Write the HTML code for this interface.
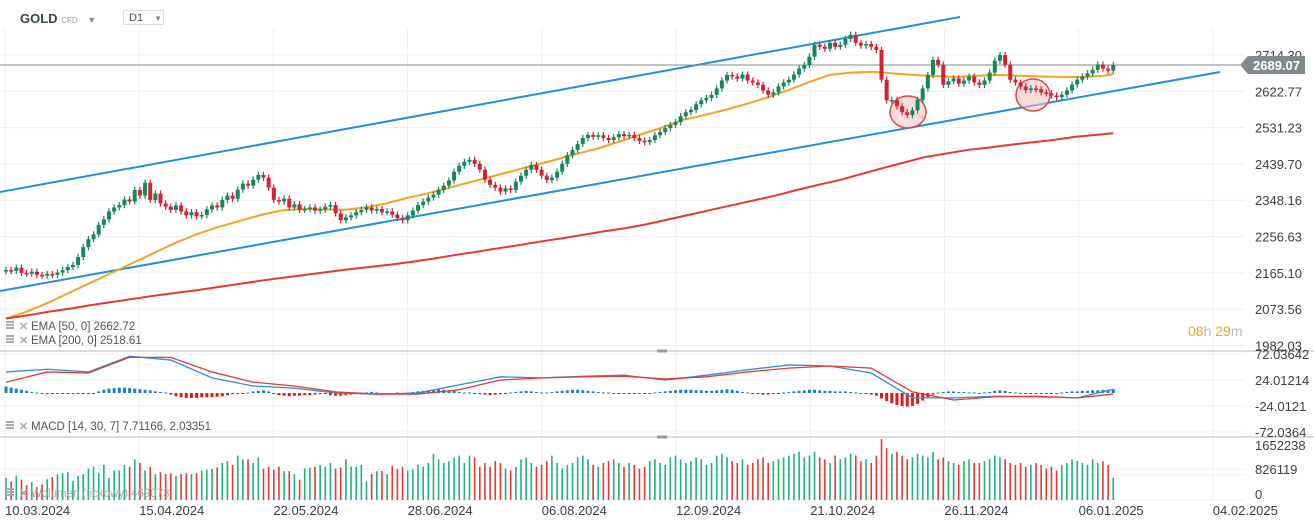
<!DOCTYPE html>
<html><head><meta charset="utf-8"><style>
body{margin:0;background:#fff;font-family:"Liberation Sans",sans-serif;}
#wrap{position:relative;width:1314px;height:526px;overflow:hidden;}
svg text{font-family:"Liberation Sans",sans-serif;}
</style></head><body>
<div id="wrap">
<svg id="chart" width="1314" height="526" xmlns="http://www.w3.org/2000/svg">
<g id="grid"></g>
<g id="lines"></g>
<g id="candles"></g>
<g id="macd"></g>
<g id="vol"></g>
<g id="axis"></g>
</svg>
<div style="position:absolute;left:20px;top:11px;font-size:13px;font-weight:bold;color:#37474f">GOLD <span style="font-size:8px;color:#999;font-weight:normal">CFD</span> <span style="font-size:9px;color:#888;margin-left:6px">▼</span></div>
<div style="position:absolute;left:123px;top:10px;width:41px;height:15px;border:1px solid #ddd;font-size:11px;color:#555;line-height:15px;box-sizing:border-box;padding-left:5px">D1 <span style="font-size:8px;color:#888;margin-left:8px">▼</span></div>
</div>
<script>
const closes=[2172,2170,2178,2165,2163,2168,2160,2158,2162,2160,
2166,2172,2180,2185,2205,2230,2250,2262,2286,2300,
2320,2330,2336,2350,2345,2374,2360,2392,2349,2365,
2340,2332,2324,2335,2320,2310,2318,2308,2311,2325,
2335,2330,2349,2360,2352,2375,2390,2385,2400,2412,
2405,2380,2349,2345,2352,2330,2338,2324,2326,2330,
2322,2325,2332,2336,2315,2298,2305,2310,2318,2324,
2330,2322,2326,2318,2320,2312,2303,2298,2310,2322,
2336,2345,2355,2362,2374,2385,2398,2420,2435,2445,
2450,2440,2425,2400,2387,2380,2370,2378,2374,2395,
2410,2425,2437,2425,2410,2399,2405,2420,2440,2462,
2475,2490,2505,2513,2508,2512,2505,2500,2507,2515,
2510,2513,2505,2498,2495,2500,2512,2520,2530,2538,
2545,2560,2570,2576,2590,2600,2606,2614,2630,2650,
2664,2660,2655,2665,2650,2645,2639,2625,2614,2620,
2635,2645,2652,2665,2680,2689,2710,2740,2735,2730,
2745,2735,2740,2755,2765,2745,2738,2742,2735,2727,
2652,2600,2601,2585,2570,2563,2575,2601,2630,2664,
2702,2690,2639,2648,2655,2642,2650,2660,2645,2639,
2650,2670,2700,2714,2690,2652,2645,2635,2626,2630,
2628,2620,2618,2612,2608,2614,2625,2640,2652,2660,
2668,2677,2690,2680,2675,2689];
const ema50=[2050,2068,2090,2115,2140,2165,2190,2215,2240,2262,2280,2295,2310,2322,2326,2325,2324,2330,2340,2354,2366,2380,2394,2408,2422,2436,2450,2465,2478,2495,2513,2530,2550,2562,2575,2590,2606,2625,2645,2664,2670,2672,2668,2664,2661,2659,2662,2664,2662,2660,2659,2659,2662,2666];
const ema200=[2050,2058,2067,2075,2084,2092,2100,2108,2115,2122,2130,2138,2146,2153,2160,2167,2174,2180,2186,2193,2201,2210,2218,2227,2235,2244,2252,2261,2270,2278,2288,2300,2312,2324,2336,2348,2360,2374,2387,2399,2414,2429,2443,2457,2466,2475,2481,2488,2494,2500,2508,2513,2517];
const macdLine=[39,44,39,68,61,28,13,9,0,-2,0,15,30,28,31,33,24,33,43,52,50,37,-9,-9,-6,-7,-9,7];
const signalLine=[20,39,37,66,66,39,20,13,2,-2,-2,6,24,28,30,31,26,30,39,46,50,46,2,-13,-7,-6,-9,-2];
const hist=[12,10,8,6,4,2,1,0,-1,-1,0,-1,-1,0,-1,-2,-2,-1,3,6,8,9,10,10,9,8,7,6,5,3,2,1,-3,-6,-8,-9,-9,-9,-8,-8,-8,-7,-6,-4,-2,-1,-1,1,3,4,5,3,-1,-4,-5,-6,-5,-5,-4,-4,-3,-2,-1,-4,-5,-5,-4,-3,-2,-1,1,2,1,0,-1,0,1,0,1,2,3,4,5,6,7,6,5,4,2,1,1,-1,-2,-3,-4,-3,-2,-1,1,2,3,4,3,2,1,1,2,3,4,5,6,6,5,4,3,2,1,1,0,-1,-1,-2,-2,-1,-1,0,1,2,3,4,5,6,6,6,5,5,4,4,5,6,7,6,4,2,1,-1,-2,-3,-3,-2,-1,1,2,3,4,5,6,6,5,4,4,3,3,3,2,1,0,-1,-3,-5,-10,-15,-19,-22,-24,-25,-24,-20,-14,-8,-3,1,2,3,3,2,2,1,1,0,1,2,4,5,4,2,1,0,-1,-2,-2,-2,-1,-1,0,1,2,3,3,4,4,5,5,6,6,7];
const volumes=[600,500,650,550,400,480,350,420,560,620,700,720,750,520,650,700,850,900,720,950,600,800,800,950,900,1100,1000,800,900,700,750,700,720,650,700,720,700,720,800,820,840,880,1000,1050,950,1200,1100,1100,1000,1150,850,900,820,900,780,780,700,550,850,880,900,950,900,1000,850,880,1100,900,900,950,500,700,780,780,700,920,850,900,800,830,950,900,1000,1250,1100,1000,1050,1150,1200,1000,1200,1150,900,1000,900,1050,1000,850,800,900,1100,1150,1000,900,950,1050,1200,1000,850,950,1000,1150,1200,1100,950,900,1000,1050,1100,1000,900,1000,950,850,900,1050,1100,1000,950,1150,1200,1100,1000,1050,1150,1100,950,1000,1200,1250,1150,1050,1000,1100,950,1000,1100,1150,1000,1050,1100,1150,1200,1250,1300,1150,1200,1300,1150,1100,1000,1200,1100,1150,1250,1200,1050,1100,1000,1200,1650,1400,1250,1300,1200,1100,1150,1250,1200,1150,1300,1100,1150,1050,1000,950,1050,1100,1000,1000,1050,1100,1200,1150,1100,1000,950,1000,900,950,1000,950,850,900,800,950,1000,1100,1050,1000,950,1100,1000,1050,950,600];
const priceTicks=["2714.30","2622.77","2531.23","2439.70","2348.16","2256.63","2165.10","2073.56","1982.03"];
const macdTicks=["72.03642","24.01214","-24.0121","-72.0364"];
const volTicks=["1652238","826119","0"];
const dateLabels=["10.03.2024","15.04.2024","22.05.2024","28.06.2024","06.08.2024","12.09.2024","21.10.2024","26.11.2024","06.01.2025","04.02.2025"];

const NS="http://www.w3.org/2000/svg";
function mk(parent,tag,attrs){const e=document.createElementNS(NS,tag);for(const k in attrs)e.setAttribute(k,attrs[k]);parent.appendChild(e);return e;}
const xi=i=>6+i*5.15;
const yP=p=>55+(2714.3-p)*0.3967;
const yM=v=>393-v*0.54;
const yV=v=>500-v*0.037;
const G=document.getElementById('grid'),L=document.getElementById('lines'),C=document.getElementById('candles'),M=document.getElementById('macd'),V=document.getElementById('vol'),A=document.getElementById('axis');

priceTicks.forEach((t,k)=>{const y=yP(parseFloat(t));
const g=mk(G,'line',{x1:0,x2:1245,y1:y,y2:y,stroke:'#efefef'});


const tx=mk(A,'text',{x:1255,y:y+5,'font-size':13,fill:'#3a3f44'});tx.textContent=t;

});
dateLabels.forEach((d,k)=>{const x=5+k*134.2;
const g=mk(G,'line',{x1:x,x2:x,y1:28,y2:500,stroke:'#efefef'});


const tx=mk(A,'text',{x:x,y:515,'font-size':13,fill:'#3a3f44'});tx.textContent=d;

});
[[yM(72),macdTicks[0]],[yM(24),macdTicks[1]],[yM(-24),macdTicks[2]],[yM(-72),macdTicks[3]]].forEach(([y,t])=>{
const g=mk(G,'line',{x1:0,x2:1245,y1:y,y2:y,stroke:'#f2f2f2'});


const tx=mk(A,'text',{x:1255,y:y+5,'font-size':13,fill:'#3a3f44'});tx.textContent=t;

});
[[450,469,volTicks[0]],[474,475,volTicks[1]],[499,500,volTicks[2]]].forEach(([ty,gy,t])=>{
const g=mk(G,'line',{x1:0,x2:1245,y1:gy,y2:gy,stroke:'#f2f2f2'});


const tx=mk(A,'text',{x:1255,y:ty,'font-size':13,fill:'#3a3f44'});tx.textContent=t;

});
[351,437].forEach(y=>{const s=mk(G,'line',{x1:0,x2:1314,y1:y,y2:y,stroke:'#d0d0d0','stroke-width':1.5});


mk(G,'rect',{x:657,y:y-1.5,width:10,height:3,fill:'#999'});});

const up=mk(L,'line',{x1:0,y1:192,x2:960,y2:17,stroke:'#1e8fe8','stroke-width':2});


const lo=mk(L,'line',{x1:0,y1:291,x2:1220,y2:72,stroke:'#1e8fe8','stroke-width':2});


function poly(arr,step,color){const pts=arr.map((v,k)=>xi(Math.min(k*step,215))+','+yP(v)).join(' ');
return mk(L,'polyline',{points:pts,fill:'none',stroke:color,'stroke-width':2});}
const e50=poly(ema50,4.1,'#f7a127');


const e200=poly(ema200,4.15,'#e53935');


const pl=mk(L,'line',{x1:0,x2:1240,y1:yP(2689.07),y2:yP(2689.07),stroke:'#7f8a8d','stroke-width':1});



closes.forEach((c,i)=>{const o=i?closes[i-1]:c-3;const x=xi(i);const g=c>=o;const col=g?'#17875a':'#d42233';
const hi=Math.max(o,c)+8,lw=Math.min(o,c)-8;
const w=mk(C,'line',{x1:x,x2:x,y1:yP(hi),y2:yP(lw),stroke:col,'stroke-width':1.2});


const b=mk(C,'rect',{x:x-2,y:yP(Math.max(o,c)),width:4,height:Math.max(1.5,Math.abs(yP(o)-yP(c))),fill:col});

});

[[908,112,18,16],[1033,95,17,16]].forEach(a=>{const e=mk(L,'ellipse',{cx:a[0],cy:a[1],rx:a[2],ry:a[3],fill:'rgba(255,190,190,0.55)',stroke:'#e04848','stroke-width':1.5});

});

hist.forEach((h,i)=>{const x=xi(i);const y0=yM(0),y1=yM(h);
const r=mk(M,'rect',{x:x-1.5,y:Math.min(y0,y1),width:3,height:Math.max(1,Math.abs(y1-y0)),fill:h>=0?'#1f7fc9':'#dd1c1c'});

});
function mpoly(arr,color){return mk(M,'polyline',{points:arr.map((v,k)=>xi(Math.min(k*8,215))+','+yM(v)).join(' '),fill:'none',stroke:color,'stroke-width':1.3});}
const ml=mpoly(macdLine,'#2b8fe0');


const sl=mpoly(signalLine,'#e53935');



volumes.forEach((v,i)=>{const x=xi(i);const o=i?closes[i-1]:closes[i]-3;
const r=mk(V,'rect',{x:x-0.8,y:yV(v),width:1.6,height:yV(0)-yV(v),fill:closes[i]>=o?'#1db37b':'#e53935'});

});

const py=yP(2689.07);
const tag=mk(A,'path',{d:`M1240 ${py} L1248 ${py-9} L1305 ${py-9} L1305 ${py+9} L1248 ${py+9} Z`,fill:'#7f8a8d'});


const pt=mk(A,'text',{x:1253,y:py+5,'font-size':13,fill:'#fff','font-weight':'bold'});pt.textContent='2689.07';



function legend(y,txt,name,col){const g=mk(A,'g',{});


mk(g,'rect',{x:6,y:y-9,width:8,height:2,fill:'#aaa'});mk(g,'rect',{x:6,y:y-6,width:8,height:2,fill:'#aaa'});mk(g,'rect',{x:6,y:y-3,width:8,height:2,fill:'#aaa'});
const x=mk(g,'text',{x:19,y:y,'font-size':11,fill:'#aaa','font-weight':'bold'});x.textContent='✕';
const t=mk(g,'text',{x:31,y:y,'font-size':11.5,fill:col});t.textContent=txt;}
legend(330,'EMA  [50,  0]  2662.72','ema50-legend','#555');
legend(344,'EMA  [200,  0]  2518.61','ema200-legend','#555');
legend(430,'MACD  [14,  30,  7]  7.71166,  2.03351','macd-legend','#555');
legend(497,'Wolumen  (tickowy)  469073','volume-legend','#aaa');

const cd=mk(A,'text',{x:1188,y:336,'font-size':14});


cd.innerHTML='<tspan fill="#f7a127">08</tspan><tspan fill="#bbb">h </tspan><tspan fill="#f7a127">29</tspan><tspan fill="#bbb">m</tspan>';
</script>
</body></html>
